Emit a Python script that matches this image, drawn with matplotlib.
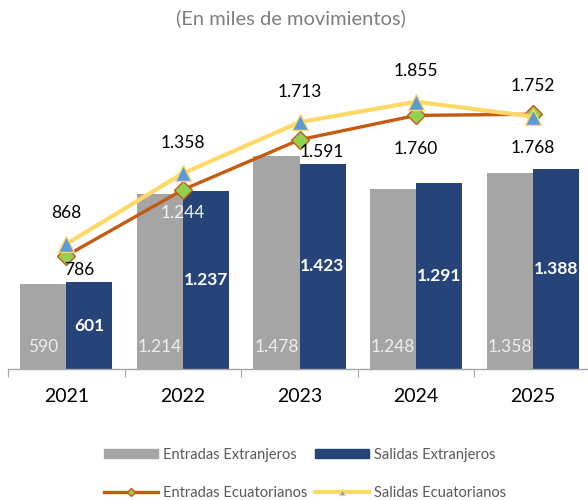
import matplotlib
matplotlib.use("Agg")
import matplotlib.pyplot as plt
from matplotlib.lines import Line2D
from matplotlib.patches import Patch
import numpy as np

plt.rcParams['font.family'] = ['Lato', 'DejaVu Sans']

years = ["2021", "2022", "2023", "2024", "2025"]
entradas_extranjeros = [590, 1214, 1478, 1248, 1358]
salidas_extranjeros = [601, 1237, 1423, 1291, 1388]
entradas_ecuatorianos = [786, 1244, 1591, 1760, 1768]
salidas_ecuatorianos = [868, 1358, 1713, 1855, 1752]

def fmt(v):
    return f"{v:,}".replace(",", ".")

fig = plt.figure(figsize=(5.88, 5.00), dpi=100)
ax = fig.add_axes([8/588, 1-369/500, 583/588, (369-52)/500])

x = np.arange(len(years))
w = 0.395
c_gray = "#A5A5A5"
c_blue = "#264478"
c_orange = "#C55A11"
c_yellow = "#FFD966"

ax.bar(x - w/2, entradas_extranjeros, w, color=c_gray, zorder=2)
ax.bar(x + w/2, salidas_extranjeros, w, color=c_blue, zorder=2)

ax.plot(x, entradas_ecuatorianos, color=c_orange, lw=2.4, marker="D",
        markersize=9, markerfacecolor="#92D050", markeredgecolor=c_orange,
        markeredgewidth=1.0, zorder=4)
ax.plot(x, salidas_ecuatorianos, color=c_yellow, lw=3.0, marker="^",
        markersize=11, markerfacecolor="#5B9BD5", markeredgecolor=c_yellow,
        markeredgewidth=1.0, zorder=5)

ax.set_xlim(-0.5, 4.5)
ax.set_ylim(0, 2200)

lab_fs = 12.5

# bar labels
for xi, v in zip(x, entradas_extranjeros):
    ax.annotate(fmt(v), (xi - w/2, 0), xytext=(0, 16), textcoords="offset points",
                ha="center", va="center", fontsize=lab_fs, color="#EDEDED", zorder=6)
for xi, v in zip(x, salidas_extranjeros):
    ax.annotate(fmt(v), (xi + w/2, v/2), ha="center", va="center",
                fontsize=lab_fs, color="white", fontweight="bold", zorder=6)

# line labels
ent_off = [(9, -10), (0, -17), (16, -9), (0, -24), (0, -24)]
ent_col = ["black", "#F2F2F2", "black", "black", "black"]
for xi, v, off, col in zip(x, entradas_ecuatorianos, ent_off, ent_col):
    ax.annotate(fmt(v), (xi, v), xytext=off, textcoords="offset points",
                ha="center", va="center", fontsize=lab_fs, color=col, zorder=7)
for xi, v in zip(x, salidas_ecuatorianos):
    ax.annotate(fmt(v), (xi, v), xytext=(0, 22), textcoords="offset points",
                ha="center", va="center", fontsize=lab_fs, color="black", zorder=7)

for s in ["top", "right", "left"]:
    ax.spines[s].set_visible(False)
ax.spines["bottom"].set_color("#A6A6A6")
ax.spines["bottom"].set_linewidth(1.0)
ax.set_yticks([])
ax.set_xticks(np.arange(-0.5, 5.0, 1.0))
ax.set_xticklabels([])
ax.tick_params(axis="x", which="major", length=5.5, color="#A6A6A6", direction="out")
ax.set_xticks(x, minor=True)
ax.set_xticklabels(years, minor=True, fontsize=14)
ax.tick_params(axis="x", which="minor", length=0, pad=14, labelcolor="black")

fig.text(291/588, 1-18/500, "(En miles de movimientos)", ha="center", va="center",
         fontsize=14.5, color="#7F7F7F")

handles = [
    Patch(color=c_gray, label="Entradas Extranjeros"),
    Line2D([], [], color=c_orange, lw=2.4, marker="D", markersize=4,
           markerfacecolor="#92D050", markeredgecolor=c_orange, label="Entradas Ecuatorianos"),
    Patch(color=c_blue, label="Salidas Extranjeros"),
    Line2D([], [], color=c_yellow, lw=3.0, marker="^", markersize=5,
           markerfacecolor="#5B9BD5", markeredgecolor=c_yellow, label="Salidas Ecuatorianos"),
]
leg = fig.legend(handles=handles, ncol=2, loc="center", bbox_to_anchor=(305/588, 1-474/500),
                 frameon=False, fontsize=10.5, handlelength=3.7, handleheight=0.6,
                 handletextpad=0.35, columnspacing=0.5, labelspacing=1.65,
                 labelcolor="#595959")

fig.savefig("out.png", dpi=100)
